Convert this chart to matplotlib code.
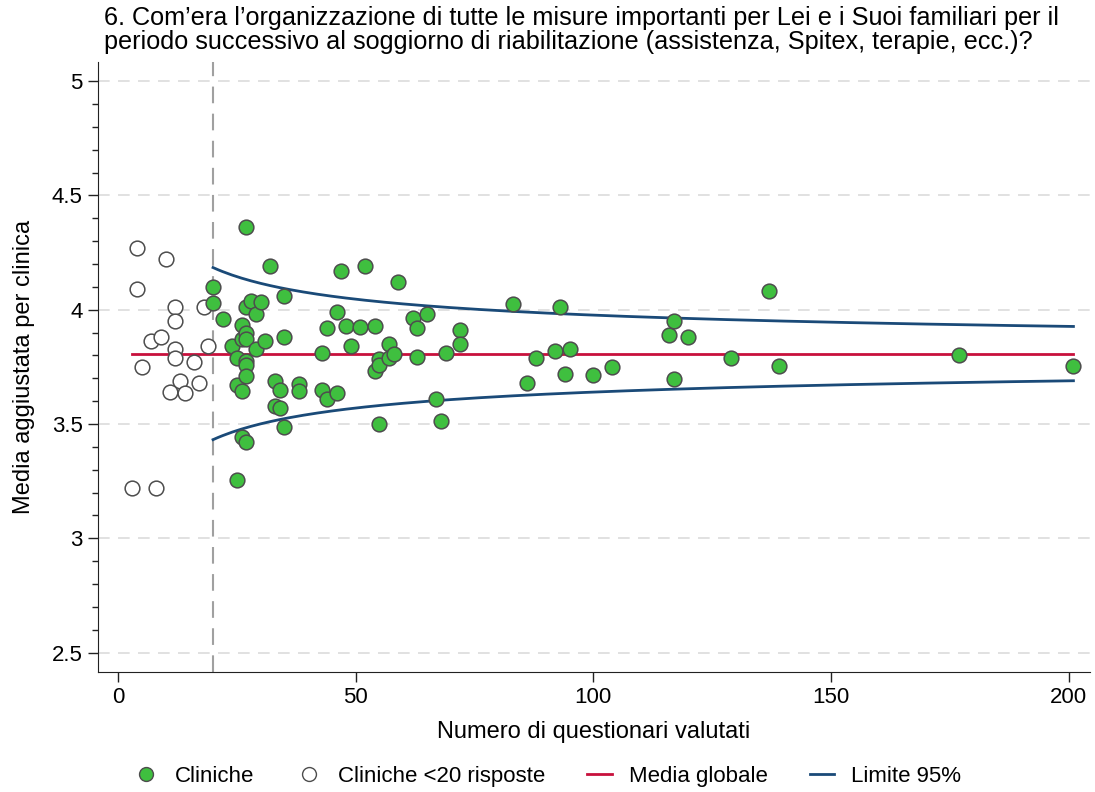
import numpy as np
import matplotlib
matplotlib.use("Agg")
import matplotlib.pyplot as plt
from matplotlib.lines import Line2D
from matplotlib.ticker import MultipleLocator

plt.rcParams["font.family"] = ["Liberation Sans", "DejaVu Sans"]

TITLE = ("6. Com\u2019era l\u2019organizzazione di tutte le misure importanti per Lei e i Suoi familiari per il\n"
         "periodo successivo al soggiorno di riabilitazione (assistenza, Spitex, terapie, ecc.)?")

# clinics with >= 20 evaluated questionnaires
n_main = [20, 20, 22, 24, 25, 25, 25, 26, 26, 26, 26, 27, 27, 27, 27, 27, 27, 27, 27,
          28, 29, 29, 30, 31, 32, 33, 33, 34, 34, 35, 35, 35, 38, 38, 43, 43, 44, 44,
          46, 46, 47, 48, 49, 51, 52, 54, 54, 55, 55, 55, 57, 57, 58, 59, 62, 63, 63,
          65, 67, 68, 69, 72, 72, 83, 86, 88, 92, 93, 94, 95, 100, 104, 116, 117, 117,
          120, 129, 137, 139, 177, 201]
mean_main = [4.10, 4.03, 3.96, 3.84, 3.79, 3.67, 3.255, 3.935, 3.87, 3.645, 3.445,
             4.36, 4.01, 3.90, 3.87, 3.775, 3.76, 3.71, 3.42,
             4.04, 3.98, 3.83, 4.035, 3.865, 4.19, 3.69, 3.58, 3.65, 3.57, 4.06, 3.88,
             3.485, 3.675, 3.645, 3.81, 3.65, 3.92, 3.61, 3.99, 3.635, 4.17, 3.93,
             3.84, 3.925, 4.19, 3.93, 3.73, 3.785, 3.76, 3.50, 3.85, 3.79, 3.805, 4.12,
             3.965, 3.92, 3.795, 3.98, 3.61, 3.515, 3.81, 3.91, 3.85, 4.025, 3.68, 3.79,
             3.82, 4.01, 3.72, 3.83, 3.715, 3.75, 3.89, 3.95, 3.695, 3.88, 3.79, 4.08,
             3.755, 3.80, 3.755]

# clinics with fewer than 20 answers
n_small = [4, 10, 4, 12, 18, 12, 7, 9, 12, 19, 12, 16, 5, 13, 17, 11, 14, 3, 8]
mean_small = [4.27, 4.22, 4.09, 4.01, 4.01, 3.95, 3.865, 3.88, 3.83, 3.84, 3.79,
              3.77, 3.75, 3.69, 3.68, 3.64, 3.635, 3.22, 3.22]

GRAND_MEAN = 3.808
SD = 0.859          # between-patient sd used for the funnel
Z95 = 1.96
N_CUTOFF = 20

GREEN = "#3fbf3f"
RED = "#c8103c"
BLUE = "#1a4a78"
EDGE = "#4d4d4d"

fig = plt.figure(figsize=(10.95, 7.92), dpi=100)
ax = fig.add_axes([0.0895, 0.1515, 0.906, 0.770])

# funnel limits
n_all = n_main + n_small
n_curve = np.arange(N_CUTOFF, max(n_all) + 1)
half = Z95 * SD / np.sqrt(n_curve)

for y in [2.5, 3, 3.5, 4, 4.5, 5]:
    ax.axhline(y, color="#dcdcdc", lw=1.2, dashes=(7, 5), zorder=0)
ax.axvline(N_CUTOFF, color="#a0a0a0", lw=1.5, dashes=(8, 5), zorder=1)

ax.plot([min(n_all), max(n_all)], [GRAND_MEAN, GRAND_MEAN], color=RED, lw=2, zorder=2)
ax.plot(n_curve, GRAND_MEAN + half, color=BLUE, lw=2, zorder=2)
ax.plot(n_curve, GRAND_MEAN - half, color=BLUE, lw=2, zorder=2)

ax.scatter(n_small, mean_small, s=112, facecolor="white", edgecolor=EDGE, lw=1.1, zorder=3)
ax.scatter(n_main, mean_main, s=112, facecolor=GREEN, edgecolor=EDGE, lw=1.1, zorder=4)

ax.set_xlim(-4.2, 204.5)
ax.set_ylim(2.415, 5.083)
ax.set_xticks([0, 50, 100, 150, 200])
ax.set_yticks([2.5, 3, 3.5, 4, 4.5, 5])
ax.set_yticklabels(["2.5", "3", "3.5", "4", "4.5", "5"])
ax.yaxis.set_minor_locator(MultipleLocator(0.1))
ax.tick_params(axis="both", which="major", labelsize=16, length=7.5, width=1, color="#222222")
ax.tick_params(axis="y", which="minor", length=4.3, width=1, color="#222222")
for side in ["top", "right"]:
    ax.spines[side].set_visible(False)
for side in ["left", "bottom"]:
    ax.spines[side].set_color("#222222")

ax.set_xlabel("Numero di questionari valutati", fontsize=17, labelpad=9)
ax.set_ylabel("Media aggiustata per clinica", fontsize=17, labelpad=12)
fig.text(0.095, 0.992, TITLE, fontsize=18.2, va="top", ha="left", linespacing=0.98)

handles = [
    Line2D([], [], ls="none", marker="o", ms=10, mfc=GREEN, mec=EDGE, mew=1),
    Line2D([], [], ls="none", marker="o", ms=10, mfc="white", mec=EDGE, mew=1),
    Line2D([], [], color=RED, lw=2),
    Line2D([], [], color=BLUE, lw=2),
]
labels = ["Cliniche", "Cliniche <20 risposte", "Media globale", "Limite 95%"]
fig.legend(handles, labels, loc="center", bbox_to_anchor=(0.5, 0.02), ncol=4,
           frameon=False, fontsize=16, handlelength=1.1, columnspacing=1.9, handletextpad=0.75)

fig.savefig("out.png", dpi=100)
